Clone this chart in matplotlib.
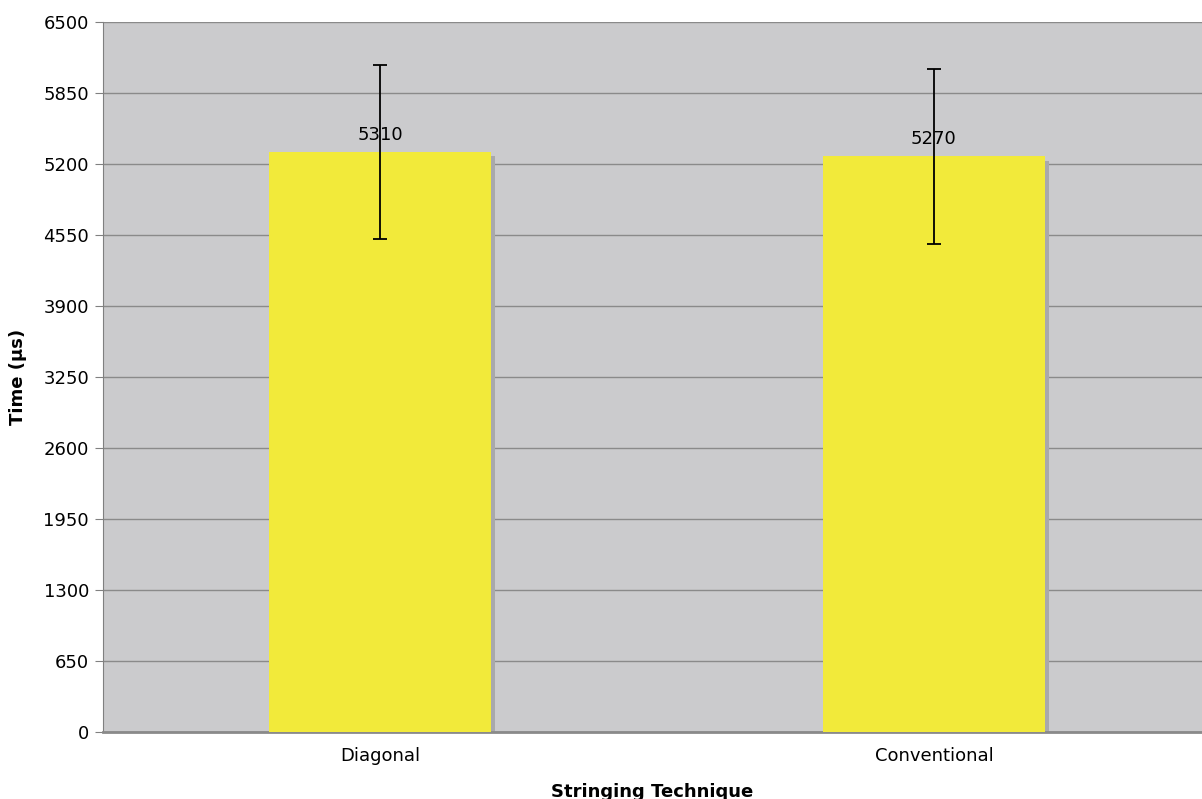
import matplotlib.pyplot as plt
import numpy as np

# data
categories = ['Diagonal', 'Conventional']
times = [5310, 5270]
errors = [800, 800]
yticks = [0, 650, 1300, 1950, 2600, 3250, 3900, 4550, 5200, 5850, 6500]

plt.rcParams['font.family'] = ['Verdana', 'DejaVu Sans']

fig = plt.figure(figsize=(12.02, 7.99), dpi=100)
ax = fig.add_axes([0.0857, 0.0839, 0.9143, 0.8886])
ax.set_facecolor('#cbcbcd')

x = np.arange(len(categories))
w = 0.4

# shadow behind the bars
ax.bar(x + 0.008, times, w, bottom=-40, color='#a9a9ab', zorder=2)
ax.bar(x, times, w, color='#f2ea3a', zorder=3)
ax.errorbar(x, times, yerr=errors, fmt='none', ecolor='black',
            elinewidth=1.3, capsize=5, capthick=1.3, zorder=4)

for xi, t in zip(x, times):
    ax.text(xi, t + 75, str(t), ha='center', va='bottom', fontsize=13, zorder=5)

ax.set_xlim(-0.5, 1.484)
ax.set_ylim(0, 6500)
ax.set_yticks(yticks)
ax.set_xticks(x)
ax.set_xticklabels(categories)
ax.yaxis.grid(True, color='#8a8a8a', linewidth=1)
ax.set_axisbelow(True)

for s in ['top', 'right']:
    ax.spines[s].set_visible(False)
ax.spines['left'].set_color('#808080')
ax.spines['bottom'].set_color('#8a8a8a')
ax.spines['bottom'].set_linewidth(2)

ax.tick_params(axis='y', length=6, color='#808080', labelsize=13, pad=4)
ax.tick_params(axis='x', length=0, labelsize=13, pad=11)

ax.set_ylabel('Time (µs)', fontsize=13, fontweight='bold', labelpad=12)
ax.set_xlabel('Stringing Technique', fontsize=13, fontweight='bold', labelpad=13)

fig.savefig('out.png', dpi=100)
